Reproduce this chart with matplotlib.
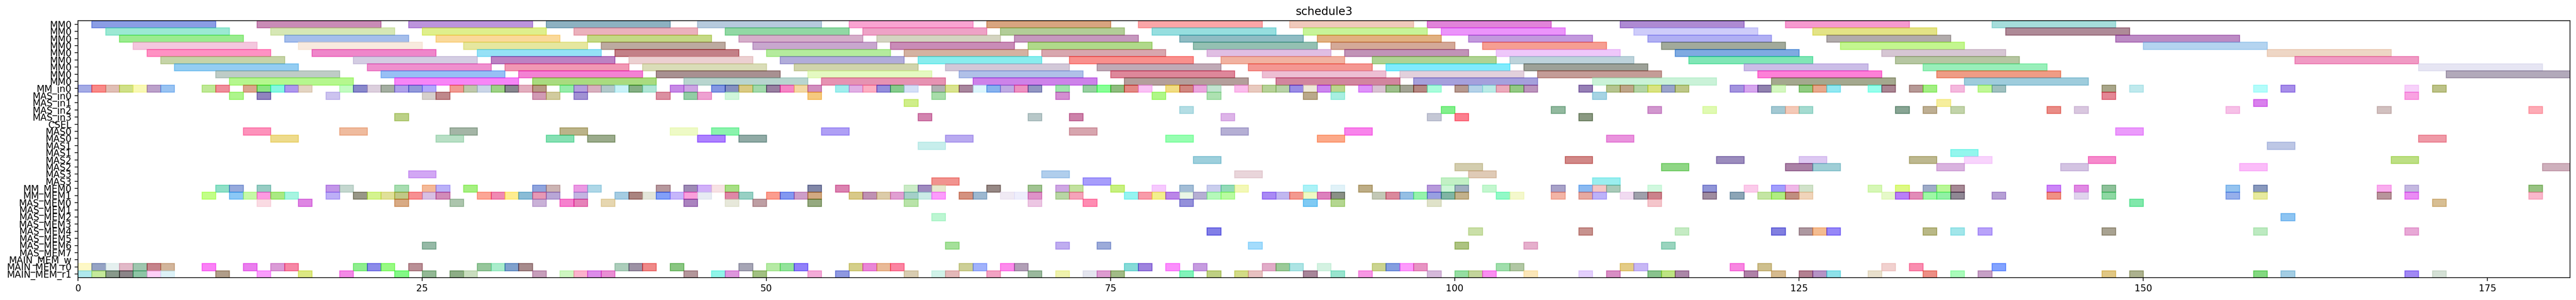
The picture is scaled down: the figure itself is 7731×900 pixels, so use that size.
import numpy as np
import matplotlib
matplotlib.use("Agg")
import matplotlib.pyplot as plt

## row labels, top to bottom
row_labels = (["MM0"] * 9
              + ["MM_in0", "MAS_in0", "MAS_in1", "MAS_in2", "MAS_in3", "CSEL",
                 "MAS0", "MAS0", "MAS1", "MAS1", "MAS2", "MAS2", "MAS3", "MAS3",
                 "MM_MEM0", "MM_MEM1"]
              + ["MAS_MEM%d" % i for i in range(8)]
              + ["MAIN_MEM_w", "MAIN_MEM_r0", "MAIN_MEM_r1"])

## task length for each row
row_durations = [9] * 9 + [1] * 6 + [2] * 8 + [1] * 13

## start times of the tasks on each row
mm0_starts = [
    [1, 13, 24, 34, 45, 56, 66, 77, 88, 98, 112, 124, 139],
    [2, 14, 25, 36, 47, 57, 67, 78, 89, 99, 113, 126, 140],
    [3, 15, 26, 37, 48, 58, 68, 80, 90, 101, 114, 127, 148],
    [4, 16, 28, 38, 49, 59, 69, 81, 91, 102, 115, 128, 150],
    [5, 17, 29, 39, 50, 60, 70, 82, 92, 103, 116, 131, 159],
    [6, 20, 30, 40, 51, 61, 72, 83, 94, 104, 117, 132, 161],
    [7, 21, 31, 41, 52, 63, 74, 85, 95, 105, 121, 134, 170],
    [10, 22, 32, 42, 53, 64, 75, 86, 96, 106, 122, 135, 172],
    [11, 23, 33, 44, 54, 65, 76, 87, 97, 110, 123, 137],
]
mm_in0 = [0, 1, 2, 3, 4, 5, 6, 9, 10, 12, 13, 14, 15, 16, 19, 20, 21, 22, 23, 24, 25, 27, 28, 29,
          30, 31, 32, 33, 35, 36, 37, 38, 39, 40, 41, 43, 44, 46, 47, 48, 49, 50, 51, 52, 53, 55,
          56, 57, 58, 59, 60, 62, 63, 64, 65, 66, 67, 68, 69, 71, 73, 74, 75, 76, 77, 79, 80, 81,
          82, 84, 85, 86, 87, 88, 89, 90, 91, 93, 94, 95, 96, 97, 98, 100, 101, 102, 103, 104,
          105, 109, 111, 112, 113, 114, 115, 116, 120, 121, 122, 123, 125, 126, 127, 130, 131,
          133, 134, 136, 138, 139, 147, 149, 158, 160, 169, 171]
mas_in_starts = [
    [11, 13, 18, 25, 26, 33, 34, 36, 42, 44, 45, 47, 53, 62, 71, 78, 82, 89, 91, 110, 147, 169],
    [60, 135, 158],
    [80, 99, 107, 114, 118, 123, 124, 125, 132, 134, 136, 143, 145, 156, 167, 178],
    [23, 61, 69, 72, 83, 98, 100, 109],
]
csel = []
mas_starts = [
    [12, 19, 27, 35, 43, 46, 54, 72, 83, 92, 148],
    [14, 26, 34, 37, 45, 48, 63, 79, 90, 111, 170],
    [61, 159],
    [136],
    [81, 108, 119, 125, 133, 137, 146, 168],
    [100, 115, 124, 126, 135, 144, 157, 179],
    [24, 70, 84, 101],
    [62, 73, 99, 110],
]
mm_mem_starts = [
    [10, 11, 13, 18, 19, 23, 25, 26, 28, 33, 34, 36, 37, 42, 44, 45, 46, 47, 53, 55, 60, 61, 62,
     66, 69, 71, 72, 75, 78, 80, 82, 83, 84, 89, 91, 93, 98, 99, 100, 102, 107, 109, 110, 111,
     114, 118, 121, 123, 124, 125, 130, 132, 134, 135, 136, 143, 145, 147, 156, 158, 167, 169, 178],
    [9, 11, 12, 13, 14, 15, 18, 20, 21, 22, 23, 24, 25, 26, 29, 30, 31, 32, 33, 34, 36, 39, 40,
     41, 42, 43, 44, 45, 47, 48, 50, 51, 52, 53, 56, 57, 58, 59, 60, 61, 62, 64, 65, 67, 68, 69,
     71, 72, 76, 77, 78, 79, 80, 81, 82, 83, 86, 87, 88, 89, 90, 91, 94, 95, 96, 97, 98, 99, 100,
     103, 104, 107, 109, 110, 112, 113, 114, 118, 120, 122, 123, 124, 125, 131, 132, 133, 134,
     135, 136, 139, 143, 145, 147, 156, 158, 167, 169, 178],
]
mas_mem_starts = [
    [13, 16, 23, 27, 33, 35, 36, 38, 44, 47, 49, 53, 60, 69, 73, 80, 89, 91, 98, 114, 149, 171],
    [],
    [62, 160],
    [],
    [82, 101, 109, 116, 123, 125, 126, 127, 134, 136, 138, 147, 158, 169],
    [],
    [25, 63, 71, 74, 85, 100, 105, 115],
    [],
]
main_mem_starts = [
    [],
    [0, 1, 2, 3, 4, 5, 6, 9, 12, 14, 15, 20, 21, 22, 24, 29, 30, 31, 32, 39, 40, 41, 43, 48, 50,
     51, 52, 56, 57, 58, 59, 64, 65, 67, 68, 76, 77, 79, 81, 86, 87, 88, 90, 94, 95, 96, 97, 103,
     104, 112, 113, 120, 122, 131, 133, 139],
    [0, 1, 2, 3, 4, 5, 6, 10, 13, 16, 19, 23, 25, 27, 28, 33, 35, 36, 37, 38, 44, 46, 47, 49, 53,
     55, 60, 62, 63, 66, 69, 71, 73, 74, 75, 80, 82, 84, 85, 89, 91, 93, 98, 100, 101, 102, 105,
     109, 111, 114, 115, 116, 121, 123, 125, 126, 127, 130, 134, 136, 138, 147, 149, 158, 160,
     169, 171],
]

row_starts = (mm0_starts + [mm_in0] + mas_in_starts + [csel] + mas_starts
              + mm_mem_starts + mas_mem_starts + main_mem_starts)

## figure
fig = plt.figure(figsize=(38.66, 4.5), dpi=200)
ax = fig.add_axes([0.03026, 0.07444, 0.96728, 0.85666])

rng = np.random.default_rng(3)  # bar colours only
for i in range(len(row_labels)):
    s = row_starts[i]
    if len(s) == 0:
        continue
    cols = rng.random((len(s), 3))
    ax.barh([i] * len(s), row_durations[i], left=s, height=1.0,
            color=cols, edgecolor=cols, alpha=0.5)

ax.set_yticks(range(len(row_labels)))
ax.set_yticklabels(row_labels)
ax.set_ylim(len(row_labels) - 0.5, -0.5)
ax.set_xlim(0, 181)
ax.set_xticks([0, 25, 50, 75, 100, 125, 150, 175])
ax.set_title("schedule3")

plt.savefig("out.png", dpi=200)
plt.close()
